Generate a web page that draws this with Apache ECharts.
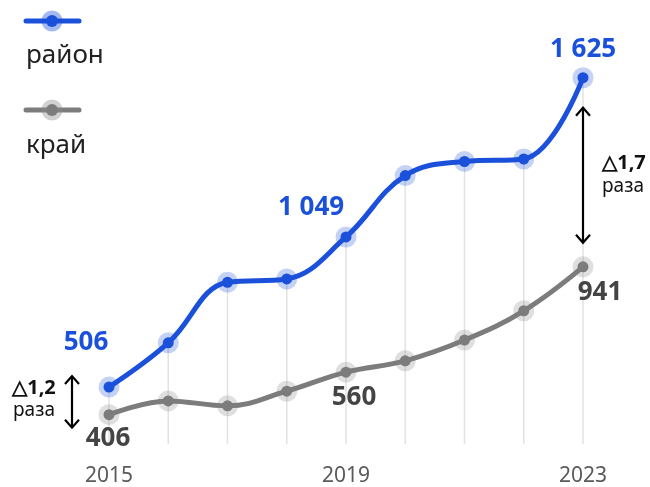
<!DOCTYPE html>
<html>
<head>
<meta charset="utf-8">
<script src="https://cdn.jsdelivr.net/npm/echarts@6/dist/echarts.min.js"></script>
<style>html,body{margin:0;padding:0;background:#fff}#c{width:650px;height:487px}</style>
</head>
<body>
<div id="c"></div>
<script>
var years = ['2015','2016','2017','2018','2019','2020','2021','2022','2023'];
var rayon = [506, 666, 885, 897, 1049, 1271, 1322, 1331, 1625];
var kray = [406, 456, 438, 491, 560, 601, 676, 782, 941];
var rayonLabels = {0: '506', 4: '1 049', 8: '1 625'};
var krayLabels = {0: '406', 4: '560', 8: '941'};
var ratioLeft = '△1,2';
var ratioRight = '△1,7';
var FONT = 'Noto Sans';
var BLUE = '#1a50da';
var GRAY = '#7c7c7c';

var rayonOffsets = {0: [-23, -44], 4: [-35, -29], 8: [0, -28]};
var krayOffsets = {0: [-1, 24], 4: [8, 25], 8: [17, 26]};

function items(vals, labels, offsets, color) {
  return vals.map(function (v, i) {
    var it = {value: v};
    if (labels[i] !== undefined) {
      it.label = {show: true, position: 'inside', offset: offsets[i], formatter: labels[i],
        color: color, fontSize: 26, fontWeight: 'bold', fontFamily: FONT};
    }
    return it;
  });
}

var chart = echarts.init(document.getElementById('c'));
chart.setOption({
  animation: false,
  grid: {left: 109, right: 67, top: 57, bottom: 43},
  xAxis: {
    type: 'category', data: years, boundaryGap: false,
    axisLine: {show: false}, axisTick: {show: false}, splitLine: {show: false},
    axisLabel: {interval: 3, color: '#5a5a5a', fontSize: 21, fontFamily: FONT, margin: 22}
  },
  yAxis: {type: 'value', min: 300, max: 1700, show: false, splitLine: {show: false}},
  series: [
    {type: 'bar', data: rayon, barWidth: 1.5, itemStyle: {color: '#e2e2e2'}, z: 1, silent: true},
    {type: 'scatter', data: rayon, symbolSize: 21, itemStyle: {color: 'rgba(26,80,218,0.32)'}, z: 2, silent: true},
    {type: 'scatter', data: kray, symbolSize: 21, itemStyle: {color: 'rgba(140,140,140,0.35)'}, z: 2, silent: true},
    {type: 'line', data: items(kray, krayLabels, krayOffsets, '#444'), smooth: 0.4,
      symbol: 'circle', symbolSize: 11, showAllSymbol: true,
      lineStyle: {color: GRAY, width: 5}, itemStyle: {color: GRAY}, z: 3},
    {type: 'line', data: items(rayon, rayonLabels, rayonOffsets, BLUE), smooth: 0.4,
      symbol: 'circle', symbolSize: 11, showAllSymbol: true,
      lineStyle: {color: BLUE, width: 5}, itemStyle: {color: BLUE}, z: 4}
  ]
});

function px(i, v) { return chart.convertToPixel({gridIndex: 0}, [i, v]); }
function arrow(x, y1, y2) {
  var s = {stroke: '#000', lineWidth: 2.2, fill: null};
  return [
    {type: 'line', shape: {x1: x, y1: y1, x2: x, y2: y2}, style: s, z: 10},
    {type: 'polyline', shape: {points: [[x - 7, y1 + 8], [x, y1], [x + 7, y1 + 8]]}, style: s, z: 10},
    {type: 'polyline', shape: {points: [[x - 7, y2 - 8], [x, y2], [x + 7, y2 - 8]]}, style: s, z: 10}
  ];
}
function txt(t, x, y, size, weight) {
  return {type: 'text', x: x, y: y, z: 10, style: {text: t, fill: '#111', font: weight + ' ' + size + 'px "' + FONT + '"',
    textAlign: 'center', textVerticalAlign: 'middle'}};
}
var bL = px(0, rayon[0]), gL = px(0, kray[0]);
var bR = px(8, rayon[8]), gR = px(8, kray[8]);
var lx = bL[0] - 37, ly1 = bL[1] - 11, ly2 = gL[1] + 13;
var rx = bR[0], ry1 = bR[1] + 30, ry2 = gR[1] - 24;
var lmid = (ly1 + ly2) / 2, rmid = (ry1 + ry2) / 2;
var g = [];
g = g.concat(arrow(lx, ly1, ly2), arrow(rx, ry1, ry2));
g.push(txt(ratioLeft, lx - 38, lmid - 14, 20, 'bold'));
g.push(txt('раза', lx - 38, lmid + 9, 19, 'normal'));
g.push(txt(ratioRight, rx + 41, rmid - 12, 20, 'bold'));
g.push(txt('раза', rx + 40, rmid + 11, 19, 'normal'));
// legend
function legendItem(y, color, halo, label, ty) {
  return [
    {type: 'line', shape: {x1: 26, y1: y, x2: 79, y2: y}, style: {stroke: color, lineWidth: 5, lineCap: 'round'}},
    {type: 'circle', shape: {cx: 52, cy: y, r: 10.5}, style: {fill: halo}},
    {type: 'circle', shape: {cx: 52, cy: y, r: 6}, style: {fill: color}},
    {type: 'text', x: 26, y: ty, style: {text: label, fill: '#222', font: 'normal 26px "' + FONT + '"', textVerticalAlign: 'middle'}}
  ];
}
g = g.concat(legendItem(21, BLUE, 'rgba(26,80,218,0.4)', 'район', 56));
g = g.concat(legendItem(110, GRAY, 'rgba(140,140,140,0.4)', 'край', 146));
chart.setOption({graphic: g});
</script>
</body>
</html>
